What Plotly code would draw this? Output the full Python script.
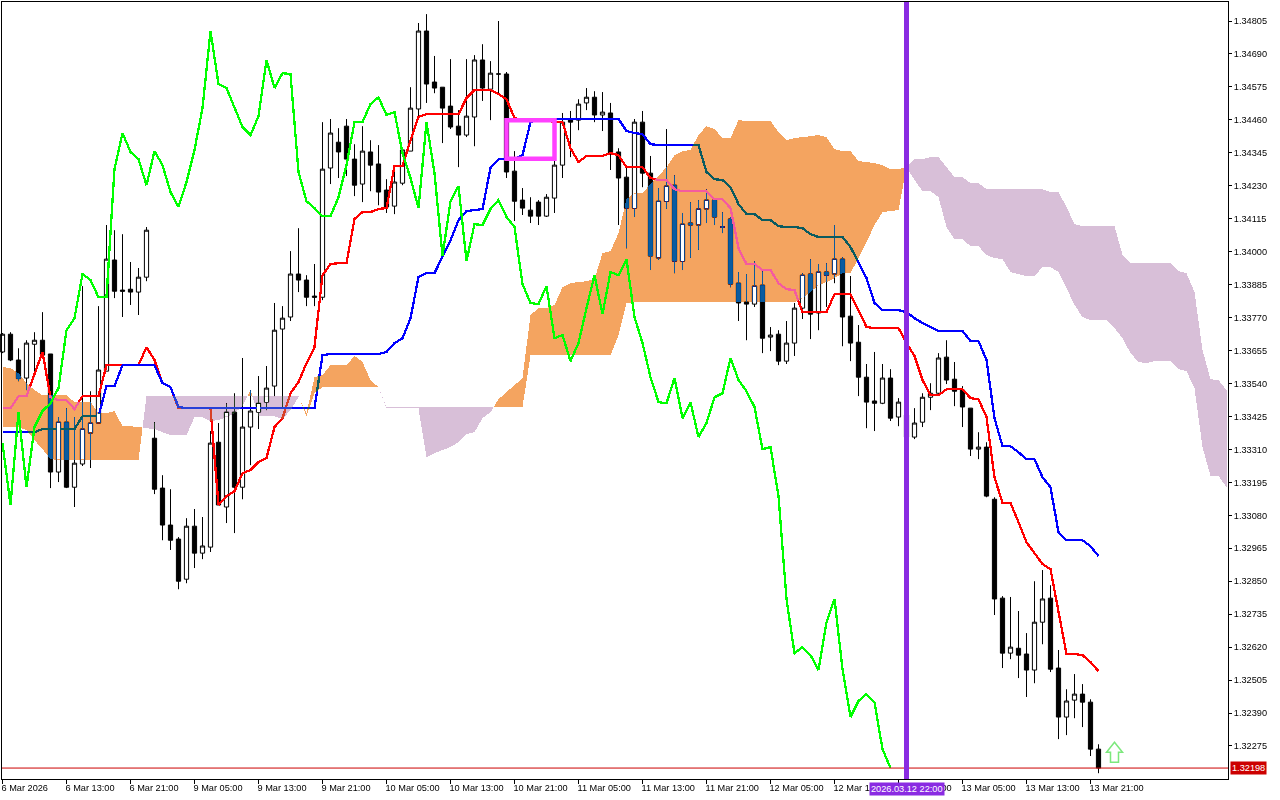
import plotly.graph_objects as go

# Hourly candles (index 0 = 6 Mar 05:00)
open_ = [1.33650,1.33712,1.33622,1.33559,1.33677,1.33691,1.33643,1.33231,1.33405,1.33178,1.33259,1.33367,1.33402,1.33583,1.33971,1.33866,1.33869,1.33859,1.33911,1.33349,
1.33175,1.33046,1.32997,1.32857,1.33042,1.32948,1.32969,1.33335,1.33109,1.33440,1.33178,1.33388,1.33440,1.33475,1.33531,1.33730,1.33772,1.33922,1.33901,1.33845,
1.33841,1.34292,1.34382,1.34438,1.34323,1.34236,1.34348,1.34306,1.34215,1.34159,1.34239,1.34351,1.34498,1.34770,1.34592,1.34574,1.34508,1.34438,1.34407,1.34470,
1.34669,1.34567,1.34620,1.34620,1.34281,1.34180,1.34145,1.34173,1.34124,1.34187,1.34302,1.34463,1.34459,1.34519,1.34539,1.34477,1.34484,1.34348,1.34260,1.34152,
1.34452,1.34274,1.33978,1.34176,1.34232,1.33967,1.34100,1.34093,1.34149,1.34180,1.34086,1.34114,1.33890,1.33824,1.33817,1.33883,1.33702,1.33712,1.33618,1.33681,
1.33803,1.33922,1.33786,1.33929,1.33922,1.33974,1.33775,1.33684,1.33562,1.33479,1.33471,1.33559,1.33423,1.33430,1.33353,1.33405,1.33492,1.33506,1.33632,1.33555,
1.33517,1.33454,1.33311,1.33318,1.33136,1.32791,1.32599,1.32616,1.32596,1.32540,1.32707,1.32791,1.32547,1.32376,1.32435,1.32456,1.32428,1.32264]
high = [1.33716,1.33719,1.33663,1.33691,1.33719,1.33789,1.33643,1.33423,1.33454,1.33423,1.33880,1.33513,1.33810,1.34093,1.34075,1.34061,1.33964,1.33943,1.34086,1.33405,
1.33220,1.33171,1.33004,1.33070,1.33102,1.33074,1.33374,1.33402,1.33471,1.33506,1.33629,1.33517,1.33566,1.33601,1.33821,1.33810,1.34002,1.34082,1.33918,1.33957,
1.34452,1.34463,1.34431,1.34463,1.34375,1.34438,1.34389,1.34372,1.34253,1.34292,1.34361,1.34574,1.34798,1.34829,1.34683,1.34574,1.34672,1.34494,1.34672,1.34686,
1.34724,1.34665,1.34805,1.34627,1.34351,1.34222,1.34190,1.34180,1.34201,1.34330,1.34484,1.34491,1.34532,1.34571,1.34560,1.34557,1.34519,1.34361,1.34292,1.34463,
1.34491,1.34334,1.34222,1.34428,1.34267,1.34135,1.34173,1.34180,1.34218,1.34187,1.34138,1.34121,1.33929,1.33922,1.33967,1.33932,1.33737,1.33726,1.33758,1.33821,
1.33925,1.33974,1.33957,1.33960,1.34093,1.33981,1.33915,1.33744,1.33608,1.33650,1.33608,1.33590,1.33489,1.33450,1.33454,1.33506,1.33541,1.33646,1.33691,1.33615,
1.33531,1.33454,1.33370,1.33335,1.33143,1.32798,1.32795,1.32746,1.32669,1.32850,1.32889,1.32836,1.32610,1.32473,1.32526,1.32491,1.32438,1.32281]
low = [1.33646,1.33618,1.33548,1.33517,1.33562,1.33632,1.33175,1.33196,1.33175,1.33109,1.33252,1.33245,1.33402,1.33583,1.33838,1.33772,1.33814,1.33779,1.33897,1.33154,
1.32993,1.32959,1.32822,1.32843,1.32896,1.32927,1.32952,1.33116,1.33053,1.33018,1.33136,1.33255,1.33381,1.33447,1.33496,1.33458,1.33758,1.33859,1.33810,1.33810,
1.33831,1.34236,1.34257,1.34264,1.34194,1.34173,1.34211,1.34162,1.34135,1.34131,1.34232,1.34351,1.34466,1.34519,1.34553,1.34379,1.34428,1.34295,1.34400,1.34368,
1.34526,1.34459,1.34553,1.34257,1.34107,1.34128,1.34100,1.34093,1.34121,1.34135,1.34257,1.34330,1.34424,1.34494,1.34452,1.34421,1.34285,1.34093,1.34012,1.34121,
1.34225,1.33936,1.33971,1.34149,1.33925,1.33936,1.33978,1.34006,1.34100,1.34093,1.34065,1.33876,1.33758,1.33691,1.33807,1.33646,1.33653,1.33604,1.33608,1.33636,
1.33765,1.33695,1.33726,1.33807,1.33890,1.33670,1.33618,1.33496,1.33384,1.33374,1.33468,1.33409,1.33391,1.33342,1.33346,1.33388,1.33447,1.33503,1.33538,1.33461,
1.33388,1.33287,1.33276,1.33143,1.32732,1.32547,1.32578,1.32512,1.32446,1.32494,1.32630,1.32533,1.32299,1.32313,1.32372,1.32341,1.32240,1.32180]
close = [1.33712,1.33622,1.33557,1.33681,1.33691,1.33639,1.33231,1.33405,1.33178,1.33262,1.33381,1.33402,1.33587,1.33974,1.33862,1.33862,1.33859,1.33911,1.34075,1.33171,
1.33046,1.32993,1.32850,1.33042,1.32948,1.32973,1.33332,1.33116,1.33440,1.33178,1.33388,1.33444,1.33471,1.33524,1.33726,1.33768,1.33922,1.33901,1.33841,1.33841,
1.34288,1.34414,1.34348,1.34323,1.34232,1.34351,1.34302,1.34208,1.34156,1.34243,1.34355,1.34501,1.34770,1.34585,1.34571,1.34501,1.34435,1.34407,1.34473,1.34669,
1.34571,1.34623,1.34620,1.34278,1.34176,1.34152,1.34124,1.34124,1.34190,1.34302,1.34452,1.34452,1.34515,1.34539,1.34477,1.34487,1.34344,1.34257,1.34152,1.34452,
1.34274,1.33985,1.34176,1.34229,1.33967,1.34096,1.34093,1.34149,1.34180,1.34121,1.34086,1.33887,1.33821,1.33817,1.33880,1.33698,1.33709,1.33618,1.33681,1.33803,
1.33918,1.33782,1.33929,1.33918,1.33974,1.33772,1.33681,1.33562,1.33475,1.33471,1.33559,1.33419,1.33475,1.33353,1.33402,1.33492,1.33506,1.33629,1.33552,1.33513,
1.33458,1.33311,1.33318,1.33147,1.32788,1.32599,1.32620,1.32592,1.32540,1.32707,1.32788,1.32543,1.32376,1.32432,1.32456,1.32428,1.32264,1.32198]

tenkan = [1.33454,1.33454,1.33496,1.33496,1.33573,1.33650,1.33492,1.33482,1.33482,1.33451,1.33496,1.33496,1.33496,1.33604,1.33604,1.33604,1.33604,1.33604,1.33667,1.33622,
1.33541,1.33527,1.33454,1.33454,1.33454,1.33454,1.33454,1.33116,1.33147,1.33164,1.33227,1.33238,1.33266,1.33280,1.33388,1.33419,1.33506,1.33545,1.33611,1.33667,
1.33918,1.33957,1.33960,1.33960,1.34114,1.34138,1.34138,1.34149,1.34152,1.34299,1.34299,1.34389,1.34470,1.34480,1.34480,1.34480,1.34480,1.34480,1.34536,1.34564,
1.34564,1.34564,1.34550,1.34532,1.34466,1.34459,1.34459,1.34459,1.34459,1.34452,1.34452,1.34361,1.34313,1.34334,1.34334,1.34334,1.34344,1.34337,1.34295,1.34295,
1.34295,1.34257,1.34250,1.34250,1.34218,1.34211,1.34211,1.34211,1.34211,1.34183,1.34183,1.34152,1.34012,1.33957,1.33957,1.33936,1.33936,1.33890,1.33869,1.33866,
1.33789,1.33789,1.33789,1.33789,1.33852,1.33852,1.33852,1.33796,1.33737,1.33733,1.33733,1.33733,1.33733,1.33681,1.33636,1.33552,1.33499,1.33499,1.33520,1.33520,
1.33520,1.33489,1.33485,1.33423,1.33213,1.33123,1.33123,1.33056,1.32986,1.32948,1.32910,1.32892,1.32739,1.32596,1.32596,1.32592,1.32568,1.32536]

kijun = [1.33370,1.33370,1.33370,1.33370,1.33370,1.33381,1.33381,1.33381,1.33381,1.33381,1.33426,1.33426,1.33426,1.33531,1.33531,1.33604,1.33604,1.33604,1.33604,1.33604,
1.33541,1.33527,1.33458,1.33454,1.33454,1.33454,1.33454,1.33454,1.33454,1.33454,1.33454,1.33454,1.33454,1.33454,1.33454,1.33454,1.33454,1.33454,1.33454,1.33454,
1.33639,1.33643,1.33643,1.33643,1.33643,1.33643,1.33643,1.33643,1.33650,1.33681,1.33698,1.33768,1.33911,1.33925,1.33925,1.33981,1.34040,1.34110,1.34142,1.34145,
1.34149,1.34292,1.34323,1.34323,1.34323,1.34337,1.34452,1.34463,1.34463,1.34463,1.34463,1.34463,1.34463,1.34463,1.34463,1.34463,1.34463,1.34463,1.34421,1.34414,
1.34410,1.34375,1.34372,1.34372,1.34372,1.34372,1.34372,1.34372,1.34278,1.34253,1.34250,1.34225,1.34166,1.34131,1.34131,1.34110,1.34110,1.34089,1.34086,1.34086,
1.34082,1.34061,1.34051,1.34051,1.34051,1.34051,1.34016,1.33960,1.33908,1.33821,1.33796,1.33796,1.33796,1.33789,1.33768,1.33751,1.33737,1.33723,1.33723,1.33723,
1.33723,1.33688,1.33688,1.33622,1.33419,1.33321,1.33321,1.33300,1.33276,1.33276,1.33213,1.33178,1.33021,1.32993,1.32993,1.32993,1.32972,1.32938]

span_a = [1.33597,1.33594,1.33576,1.33541,1.33517,1.33499,1.33499,1.33499,1.33499,1.33475,1.33475,1.33475,1.33437,1.33437,1.33444,1.33391,1.33391,1.33388,
1.33384,1.33381,1.33370,1.33360,1.33360,1.33360,1.33423,1.33423,1.33409,1.33412,1.33423,1.33437,1.33461,1.33517,1.33426,1.33426,1.33426,1.33416,1.33447,1.33492,
1.33437,1.33562,1.33569,1.33604,1.33604,1.33604,1.33636,1.33615,1.33552,1.33527,1.33453,1.33453,1.33453,1.33453,1.33453,
1.33283,1.33297,1.33308,1.33318,1.33335,1.33363,1.33370,1.33419,1.33440,1.33485,1.33510,1.33534,1.33559,1.33779,1.33803,1.33803,1.33814,1.33876,1.33890,1.33894,1.33897,1.33904,
1.33995,1.34002,1.34065,1.34183,1.34204,1.34204,1.34236,1.34264,1.34295,1.34337,1.34351,1.34355,1.34407,1.34438,1.34428,1.34396,1.34396,1.34459,1.34456,1.34456,1.34456,1.34456,
1.34417,1.34389,1.34396,1.34400,1.34403,1.34407,1.34400,1.34358,1.34351,1.34351,1.34316,1.34313,1.34309,1.34302,1.34288,1.34288,1.34295,
1.34250,1.34211,1.34211,1.34190,1.34086,1.34044,1.34044,1.34019,1.34019,1.33988,1.33978,1.33974,1.33929,1.33922,1.33915,1.33915,1.33946,1.33946,1.33929,1.33873,
1.33814,1.33772,1.33761,1.33761,1.33761,1.33733,1.33698,1.33646,1.33615,1.33611,1.33618,1.33618,1.33618,1.33590,1.33583,1.33524,1.33318,1.33217,1.33217,1.33178]

span_b = [1.33388,1.33388,1.33388,1.33377,1.33342,1.33311,1.33276,1.33273,1.33273,1.33273,1.33273,1.33273,1.33273,1.33273,1.33273,1.33273,1.33273,1.33273,
1.33496,1.33496,1.33496,1.33496,1.33496,1.33496,1.33496,1.33496,1.33496,1.33496,1.33496,1.33496,1.33496,1.33496,1.33496,1.33496,1.33496,1.33496,1.33496,1.33496,
1.33426,1.33506,1.33527,1.33527,1.33527,1.33527,1.33527,1.33527,1.33527,1.33527,
1.33458,1.33458,1.33458,1.33458,1.33458,1.33458,1.33458,1.33458,1.33458,1.33458,1.33458,1.33458,1.33458,1.33458,1.33458,1.33458,1.33458,1.33458,
1.33639,1.33639,1.33639,1.33639,1.33639,1.33639,1.33639,1.33639,1.33639,1.33639,1.33639,1.33709,1.33821,
1.33824,1.33824,1.33824,1.33824,1.33824,1.33824,1.33824,1.33824,1.33824,1.33824,1.33824,1.33824,1.33824,1.33824,1.33824,1.33824,1.33824,1.33824,1.33824,1.33824,1.33824,
1.33838,1.33859,1.33883,1.33894,1.33908,1.33925,1.33925,1.33978,1.34033,1.34093,1.34138,1.34142,1.34145,1.34295,
1.34323,1.34323,1.34330,1.34330,1.34295,1.34260,1.34260,1.34239,1.34239,1.34218,1.34218,1.34218,1.34218,1.34218,1.34218,1.34218,1.34218,1.34208,1.34208,1.34156,
1.34096,1.34089,1.34089,1.34089,1.34089,1.34089,1.33988,1.33960,1.33960,1.33960,1.33960,1.33960,1.33960,1.33932,1.33925,1.33859,1.33657,1.33555,1.33552,1.33517]

price_ticks = [1.34805,1.34690,1.34575,1.34460,1.34345,1.34230,1.34115,1.34000,1.33885,1.33770,1.33655,1.33540,1.33425,1.33310,1.33195,1.33080,1.32965,1.32850,1.32735,1.32620,1.32505,1.32390,1.32275]
time_tick_bars = [0,8,16,24,32,40,48,56,64,72,80,88,96,104,112,120,128,136]
time_tick_labels = ["6 Mar 2026","6 Mar 13:00","6 Mar 21:00","9 Mar 05:00","9 Mar 13:00","9 Mar 21:00","10 Mar 05:00","10 Mar 13:00","10 Mar 21:00","11 Mar 05:00","11 Mar 13:00","11 Mar 21:00","12 Mar 05:00","12 Mar 13:00","12 Mar 21:00","13 Mar 05:00","13 Mar 13:00","13 Mar 21:00"]
last_price = 1.32198
marked_bar = 113
marked_label = "2026.03.12 22:00"
box_bars = (63, 69)
box_prices = (1.34459, 1.34324)
signal_bar = 139
signal_price = 1.32288

CHIKOU_SHIFT = 26
FONT = "Liberation Sans"
FONT_SIZE = 9.2
LINE_W = 2.3
n = len(close)
assert len(open_) == len(high) == len(low) == n == 138, (len(open_), len(high), len(low), n)
assert len(tenkan) == n and len(kijun) == n, (len(tenkan), len(kijun))
assert len(span_a) == 154 and len(span_b) == 154, (len(span_a), len(span_b))
bars = list(range(n))

# The chikou line is the close drawn 26 bars back
chikou = close[CHIKOU_SHIFT:]


def cloud_polygons(sign):
    xs, ys = [], []
    up, down = [], []

    def flush():
        nonlocal up, down
        if len(up) > 1:
            pts = up + down[::-1]
            xs.extend([p[0] for p in pts] + [pts[0][0], None])
            ys.extend([p[1] for p in pts] + [pts[0][1], None])
        up, down = [], []

    for i, (a, b) in enumerate(zip(span_a, span_b)):
        d = (a - b) * sign
        if i > 0:
            pd = (span_a[i - 1] - span_b[i - 1]) * sign
            if (pd > 0 and d < 0) or (pd < 0 and d > 0):
                t = pd / (pd - d)
                xc = i - 1 + t
                yc = span_a[i - 1] + t * (a - span_a[i - 1])
                up.append((xc, yc))
                down.append((xc, yc))
                if d < 0:
                    flush()
        if d >= 0:
            up.append((i, a))
            down.append((i, b))
            if d == 0 and len(up) > 1:
                flush()
                up.append((i, a))
                down.append((i, b))
    flush()
    return xs, ys


fig = go.Figure()
fig.add_trace(go.Candlestick(
    x=bars, open=open_, high=high, low=low, close=close,
    increasing=dict(line=dict(color="#000000", width=1), fillcolor="#FFFFFF"),
    decreasing=dict(line=dict(color="#000000", width=1), fillcolor="#000000"),
    whiskerwidth=0, hoverinfo="skip", showlegend=False))
fig.add_trace(go.Scatter(x=bars, y=tenkan, mode="lines", line=dict(color="#FF0000", width=LINE_W), hoverinfo="skip", showlegend=False))
fig.add_trace(go.Scatter(x=bars, y=kijun, mode="lines", line=dict(color="#0000FF", width=LINE_W), hoverinfo="skip", showlegend=False))

# Cloud fills hold the XOR complement of the cloud colour; the page blends them
# with "difference", so white shows sandy brown / thistle and black shows blue.
ox, oy = cloud_polygons(1)
tx, ty = cloud_polygons(-1)
fig.add_trace(go.Scatter(x=ox, y=oy, mode="none", fill="toself", fillcolor="#0B5B9F", hoverinfo="skip", showlegend=False))
fig.add_trace(go.Scatter(x=tx, y=ty, mode="none", fill="toself", fillcolor="#274027", hoverinfo="skip", showlegend=False))

# Rising candles keep a white body inside the cloud
INSET = 0.00002
wx, wy = [], []
for i in bars:
    if close[i] > open_[i]:
        lo = max(open_[i], min(span_a[i], span_b[i])) + INSET
        hi = min(close[i], max(span_a[i], span_b[i])) - INSET
        if hi > lo:
            wx += [i, i, None]
            wy += [lo, hi, None]
fig.add_trace(go.Scatter(x=wx, y=wy, mode="lines", line=dict(color="#FFFFFF", width=3), hoverinfo="skip", showlegend=False))

fig.add_trace(go.Scatter(x=bars[:len(chikou)], y=chikou, mode="lines", line=dict(color="#00FF00", width=LINE_W), hoverinfo="skip", showlegend=False))

fig.add_hline(y=last_price, line=dict(color="#CC0000", width=1))
fig.add_vline(x=marked_bar, line=dict(color="#8A2BE2", width=5))
fig.add_shape(type="rect", x0=box_bars[0], x1=box_bars[1], y0=box_prices[0], y1=box_prices[1],
              line=dict(color="#FF40FF", width=4.5))
fig.add_shape(type="path", xref="x", yref="y", xsizemode="pixel", ysizemode="pixel",
              xanchor=signal_bar, yanchor=signal_price,
              path="M0,0 L8,-10 L4,-10 L4,-20 L-4,-20 L-4,-10 L-8,-10 Z",
              line=dict(color="#7CE87C", width=1.5), fillcolor="#FFFFFF")

fig.add_annotation(x=1, xref="paper", y=last_price, yref="y", text=f"{last_price:.5f}",
                   xanchor="left", xshift=2, showarrow=False, bgcolor="#CC0000", borderpad=1,
                   font=dict(family=FONT, size=FONT_SIZE, color="#FFFFFF"))
fig.add_annotation(x=marked_bar, xref="x", y=0, yref="paper", yanchor="top", yshift=-3, text=marked_label,
                   showarrow=False, bgcolor="#8A2BE2", borderpad=1,
                   font=dict(family=FONT, size=FONT_SIZE, color="#FFFFFF"))

fig.update_layout(
    width=1280, height=800,
    margin=dict(l=2, r=52, t=2, b=21, pad=0, autoexpand=False),
    paper_bgcolor="#FFFFFF", plot_bgcolor="#FFFFFF",
    showlegend=False, boxgap=0.25, hovermode=False,
    font=dict(family=FONT, size=FONT_SIZE, color="#000000"),
    xaxis=dict(range=[-0.0625, 153.1875], rangeslider=dict(visible=False), tickmode="array",
               tickvals=time_tick_bars, ticktext=time_tick_labels, tickangle=0, ticks="outside", ticklen=4,
               tickcolor="#000000", ticklabelposition="outside right", ticklabelshift=-2, automargin=False,
               showgrid=False, zeroline=False, showline=True, linecolor="#000000", linewidth=1, mirror=True),
    yaxis=dict(range=[1.321598, 1.348713], side="right", tickmode="array", tickvals=price_ticks,
               tickformat=".5f", ticks="outside", ticklen=3, tickcolor="#000000", automargin=False, showgrid=False,
               zeroline=False, showline=True, linecolor="#000000", linewidth=1, mirror=True),
)

post = """
document.body.style.margin='0';
document.documentElement.style.overflow='hidden';
function blendCloud(){
  document.querySelectorAll('.js-fill').forEach(function(f){
    f.style.mixBlendMode='difference';
    f.style.shapeRendering='crispEdges';
    var e=f;
    while(e && e.tagName.toLowerCase()!=='svg'){ e.removeAttribute('clip-path'); e=e.parentNode; }
  });
  document.querySelectorAll('.js-line').forEach(function(l){ l.style.shapeRendering='crispEdges'; });
}
blendCloud();
setTimeout(blendCloud,0);
"""
fig.write_html("out.html", config={"displayModeBar": False}, post_script=post)
